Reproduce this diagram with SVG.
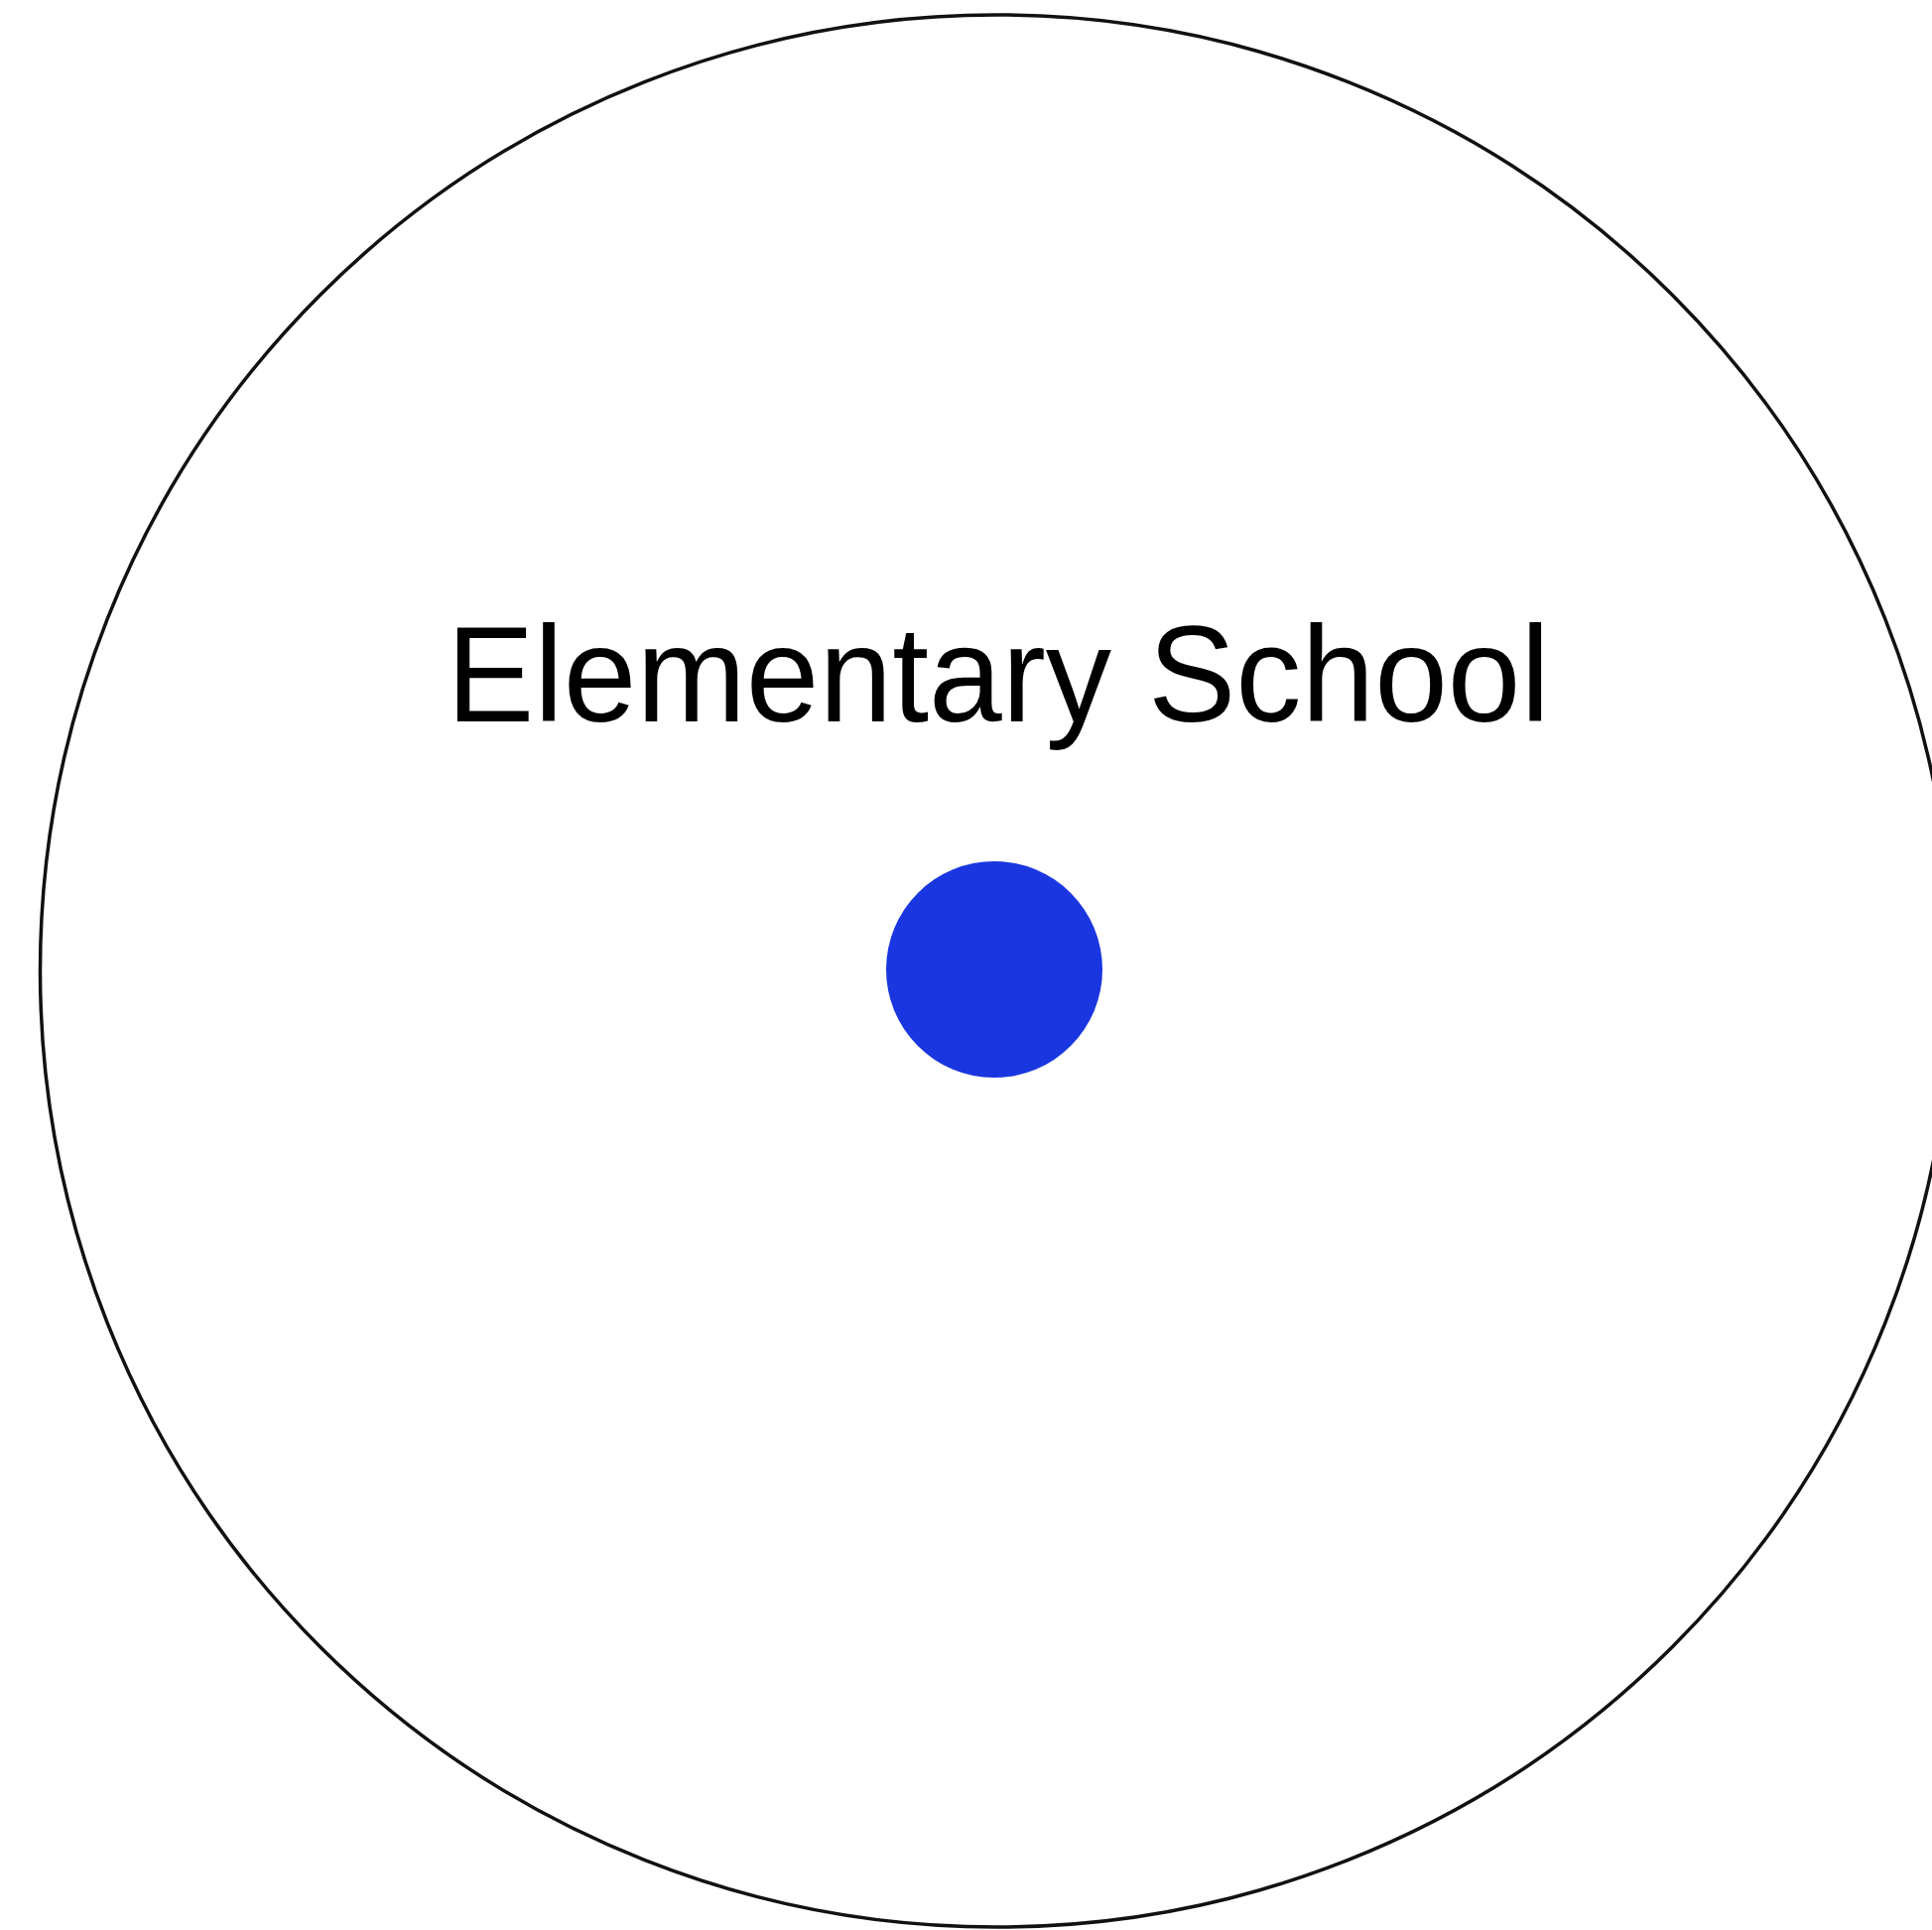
<svg xmlns="http://www.w3.org/2000/svg" width="1947" height="1945" viewBox="0 0 1947 1945">
<style>
.outline{fill:none;stroke:#111;stroke-width:3.5}
.label{font-family:"Liberation Sans",Arial,sans-serif;font-size:138px;fill:#000}
.dot{fill:#1a36e0}
</style>
<rect width="1947" height="1945" fill="#fff"/>
<g id="elementary-school">
<circle class="outline" cx="1004" cy="978.5" r="963.5"/>
<text class="label" x="450" y="727" textLength="1112" lengthAdjust="spacingAndGlyphs">Elementary School</text>
</g>
<g id="point">
<circle class="dot" cx="1002" cy="977" r="109"/>
</g>
<g id="connectors"/>
</svg>
